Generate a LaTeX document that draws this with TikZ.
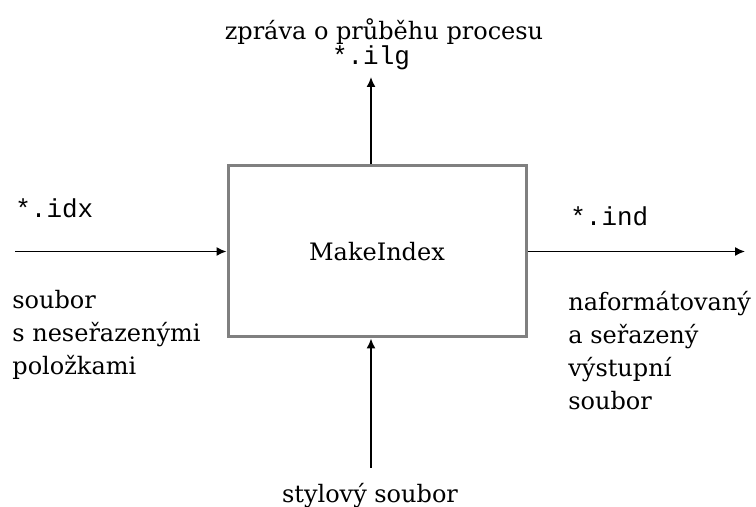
\documentclass[tikz,border=0pt]{standalone}
\usepackage{fontspec}
\setmainfont{DejaVu Serif}
\setmonofont[Scale=1.08]{Liberation Mono}
\usetikzlibrary{arrows.meta,positioning,calc}

\begin{document}
\begin{tikzpicture}[x=0.5pt,y=-0.5pt,
  font=\fontsize{12}{16.5}\selectfont,
  flow/.style={draw=black,line width=0.75pt,-{Latex[length=5pt,width=4.5pt]}},
  procbox/.style={draw=black!50,line width=1.5pt,minimum width=149pt,minimum height=85.5pt}]
\tikzstyle{every node}+=[inner sep=0pt]
\useasboundingbox (0,0) rectangle (756,507);
% process
\node [procbox] (mi) at (377,251.5) {MakeIndex};
% free ends
\coordinate (in) at (15,251.5);
\coordinate (out) at (745,251.5);
\coordinate (log) at (371,77);
\coordinate (sty) at (371,468);
% labels
\node [anchor=base] (msg) at (384,40) {zpráva o průběhu procesu};
\node [anchor=base] (ilg) at (371,65) {\texttt{*.ilg}};
\node [anchor=base west] (idx) at (15,218) {\texttt{*.idx}};
\node [anchor=base west] (ind) at (570,226) {\texttt{*.ind}};
\node [anchor=north west,align=left] (src) at (12,290) {soubor\\s neseřazenými\\položkami};
\node [anchor=north west,align=left] (res) at (568,291) {naformátovaný\\a seřazený\\výstupní\\soubor};
\node [anchor=base] (stl) at (370,503) {stylový soubor};
% flows
\draw [flow] (in) -- (mi.west);
\draw [flow] (mi.east) -- (out);
\draw [flow] (mi.north -| log) -- (log);
\draw [flow] (sty) -- (mi.south -| sty);
\end{tikzpicture}
\end{document}
